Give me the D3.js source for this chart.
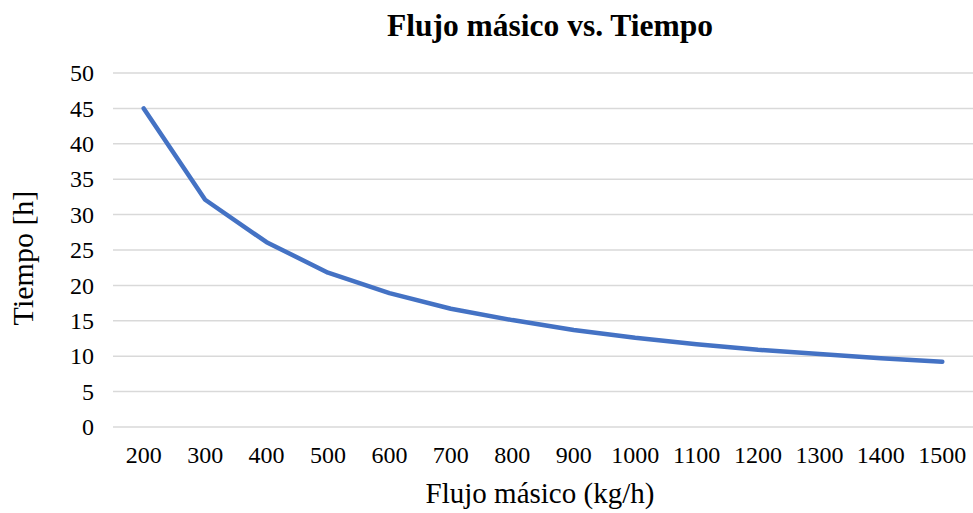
<!DOCTYPE html>
<html>
<head>
<meta charset="utf-8">
<script src="https://cdn.jsdelivr.net/npm/d3@7"></script>
<style>
  body { margin: 0; background: #fff; }
  text { font-family: "Liberation Serif", "Times New Roman", serif; fill: #000; }
</style>
</head>
<body>
<svg id="chart" width="973" height="513"></svg>
<script>
// flujo másico (kg/h) vs tiempo (h)
const flujo = [200, 300, 400, 500, 600, 700, 800, 900, 1000, 1100, 1200, 1300, 1400, 1500];
const tiempo = [45, 32.1, 26.1, 21.8, 18.9, 16.7, 15.1, 13.7, 12.6, 11.7, 10.9, 10.3, 9.7, 9.2];
const yTicks = [0, 5, 10, 15, 20, 25, 30, 35, 40, 45, 50];

const width = 973;
const height = 513;
const margin = { top: 73, right: 0, bottom: 86, left: 113 };

const svg = d3.select('#chart');

const xScale = d3.scaleBand()
    .domain(flujo)
    .range([margin.left, width - margin.right]);
const yScale = d3.scaleLinear()
    .domain([0, 50])
    .range([height - margin.bottom, margin.top]);

// gridlines
svg.append('g')
    .attr('class', 'grid')
    .selectAll('line')
    .data(yTicks)
    .enter()
    .append('line')
    .attr('x1', margin.left)
    .attr('x2', width - margin.right)
    .attr('y1', (d) => yScale(d))
    .attr('y2', (d) => yScale(d))
    .attr('stroke', '#d9d9d9')
    .attr('stroke-width', 1.5);

// y axis labels
const yAxis = d3.axisLeft(yScale).tickValues(yTicks).tickSize(0).tickPadding(19);
svg.append('g')
    .attr('transform', `translate(${margin.left}, 0)`)
    .call(yAxis)
    .call((g) => g.select('.domain').remove())
    .selectAll('text')
    .style('font-family', '"Liberation Serif", serif')
    .style('font-size', '24px')
    .attr('fill', '#000');

// x axis labels
const xAxis = d3.axisBottom(xScale).tickSize(0).tickPadding(19);
svg.append('g')
    .attr('transform', `translate(0, ${height - margin.bottom})`)
    .call(xAxis)
    .call((g) => g.select('.domain').remove())
    .selectAll('text')
    .style('font-family', '"Liberation Serif", serif')
    .style('font-size', '24px')
    .attr('fill', '#000');

// the line
const line = d3.line()
    .x((d, i) => xScale(flujo[i]) + xScale.bandwidth() / 2)
    .y((d) => yScale(d));

svg.append('path')
    .datum(tiempo)
    .attr('d', line)
    .attr('fill', 'none')
    .attr('stroke', '#4472c4')
    .attr('stroke-width', 4.5)
    .attr('stroke-linejoin', 'round')
    .attr('stroke-linecap', 'round');

// titles
svg.append('text')
    .attr('x', 550)
    .attr('y', 36)
    .attr('text-anchor', 'middle')
    .style('font-size', '31.5px')
    .style('font-weight', 'bold')
    .text('Flujo másico vs. Tiempo');

svg.append('text')
    .attr('x', 540)
    .attr('y', 503)
    .attr('text-anchor', 'middle')
    .style('font-size', '29px')
    .text('Flujo másico (kg/h)');

svg.append('text')
    .attr('transform', 'translate(33, 258) rotate(-90)')
    .attr('text-anchor', 'middle')
    .style('font-size', '30px')
    .text('Tiempo [h]');
</script>
</body>
</html>
